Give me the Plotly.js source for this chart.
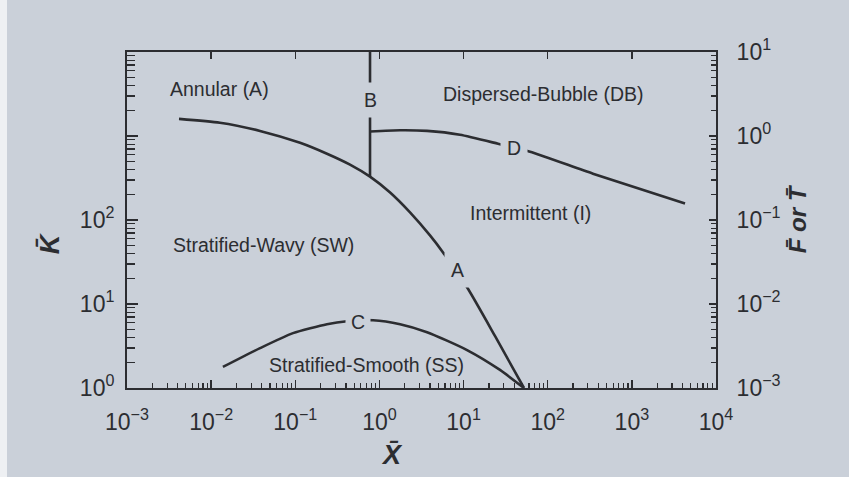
<!DOCTYPE html>
<html>
<head>
<meta charset="utf-8">
<script src="https://cdn.plot.ly/plotly-3.0.1.min.js"></script>
<style>
  html, body { margin: 0; padding: 0; background: #cad0d9; }
  #edge { position: absolute; left: 0; top: 0; width: 7px; height: 477px; background: #eef0f3; }
  #chart { position: absolute; left: 0; top: 0; width: 849px; height: 477px; }
</style>
</head>
<body>
<div id="edge"></div>
<div id="chart"></div>
<script>
// Taitel–Dukler flow-regime map for horizontal two-phase flow.
// Curves A, B and D are read against F or T (right axis), curve C against K (left axis).

const curveA_X = [0.00415, 0.0127, 0.0381, 0.114, 0.238, 0.447, 0.773, 1.34, 2.31, 3.99, 5.70, 11.0, 23.7, 52.2];
const curveA_F = [1.60, 1.44, 1.15, 0.83, 0.615, 0.456, 0.328, 0.212, 0.123, 0.0655, 0.0411, 0.0158, 0.00414, 0.001];

const curveB_X = [0.773, 0.773];
const curveB_F = [10, 0.328];

const curveC_X = [0.0138, 0.0381, 0.094, 0.238, 0.412, 0.840, 1.76, 3.68, 11.0, 27.1, 52.2];
const curveC_K = [1.78, 2.98, 4.50, 5.75, 6.24, 6.41, 5.75, 4.62, 2.83, 1.64, 1.0];

const curveD_X = [0.773, 1.76, 3.68, 9.07, 25.7, 61.6, 345, 4285];
const curveD_T = [1.13, 1.17, 1.15, 1.035, 0.809, 0.650, 0.356, 0.157];

// Tick values and labels
const xTickVals = [1e-3, 1e-2, 1e-1, 1e0, 1e1, 1e2, 1e3, 1e4];
const xTickText = ['10<sup>−3</sup>', '10<sup>−2</sup>', '10<sup>−1</sup>', '10<sup>0</sup>',
                   '10<sup>1</sup>', '10<sup>2</sup>', '10<sup>3</sup>', '10<sup>4</sup>'];
const kTickVals = [1, 10, 100, 1000, 10000];
const kTickText = ['10<sup>0</sup>', '10<sup>1</sup>', '10<sup>2</sup>', ' ', ' '];
const fTickVals = [1e-3, 1e-2, 1e-1, 1e0, 1e1];
const fTickText = ['10<sup>−3</sup>', '10<sup>−2</sup>', '10<sup>−1</sup>', '10<sup>0</sup>', '10<sup>1</sup>'];

// Region names (log10 X, log10 K)
const regionText = ['Annular (A)', 'Dispersed-Bubble (DB)', 'Intermittent (I)',
                    'Stratified-Wavy (SW)', 'Stratified-Smooth (SS)'];
const regionLogX = [-1.895, 1.944, 1.790, -1.372, -0.154];
const regionLogK = [3.561, 3.501, 2.089, 1.697, 0.273];

// Curve letters
const curveLetters = ['A', 'B', 'D'];
const letterLogX = [0.922, -0.112, 1.600];
const letterLogF = [-1.599, 0.430, -0.139];
const letterC = { text: 'C', logX: -0.255, logK: 0.783 };

const ink = '#2c2d31';
const paper = '#cad0d9';
const family = 'Liberation Sans, Arial, Helvetica, sans-serif';

function minorVals(lo, hi) {
  const v = [];
  for (let e = lo; e < hi; e++) {
    for (let d = 2; d <= 9; d++) v.push(d * Math.pow(10, e));
  }
  return v;
}

const lineStyle = { color: ink, width: 2.6, shape: 'spline', smoothing: 0.6 };

const traces = [
  { x: curveA_X, y: curveA_F, xaxis: 'x', yaxis: 'y2', mode: 'lines', line: lineStyle, hoverinfo: 'skip' },
  { x: curveB_X, y: curveB_F, xaxis: 'x', yaxis: 'y2', mode: 'lines', line: { color: ink, width: 2.6 }, hoverinfo: 'skip' },
  { x: curveD_X, y: curveD_T, xaxis: 'x', yaxis: 'y2', mode: 'lines', line: lineStyle, hoverinfo: 'skip' },
  { x: curveC_X, y: curveC_K, xaxis: 'x', yaxis: 'y', mode: 'lines', line: lineStyle, hoverinfo: 'skip' },
  // keeps the top axis drawn
  { x: [1], y: [1], xaxis: 'x2', yaxis: 'y', mode: 'markers', marker: { opacity: 0 }, hoverinfo: 'skip' }
];

const annotations = [];
regionText.forEach((t, i) => annotations.push({
  text: t, x: regionLogX[i], y: regionLogK[i], xref: 'x', yref: 'y',
  showarrow: false, font: { size: 19.5, color: ink, family: family }
}));
curveLetters.forEach((t, i) => annotations.push({
  text: t, x: letterLogX[i], y: letterLogF[i], xref: 'x', yref: 'y2',
  showarrow: false, bgcolor: paper, borderpad: 6, font: { size: 19.5, color: ink, family: family }
}));
annotations.push({
  text: letterC.text, x: letterC.logX, y: letterC.logK, xref: 'x', yref: 'y',
  showarrow: false, bgcolor: paper, borderpad: 5, font: { size: 19.5, color: ink, family: family }
});
// Axis names
annotations.push({
  text: '<b><i>X\u0304</i></b>', xref: 'paper', yref: 'paper', x: 0.45, y: -0.2,
  xanchor: 'center', yanchor: 'middle',
  showarrow: false, font: { size: 27, color: ink, family: family }
});
annotations.push({
  text: '<b><i>K\u0304</i></b>', xref: 'paper', yref: 'paper', x: -0.131, y: 0.43,
  xanchor: 'center', yanchor: 'middle',
  textangle: -90, showarrow: false, font: { size: 27, color: ink, family: family }
});

const baseAxis = {
  type: 'log', showline: true, linecolor: ink, linewidth: 2, mirror: false,
  ticks: 'inside', tickcolor: ink, tickwidth: 1.5, showgrid: false, zeroline: false,
  tickmode: 'array', tickfont: { size: 23, color: ink, family: family }
};

const layout = {
  width: 849, height: 477,
  margin: { l: 127, r: 133, t: 52, b: 89 },
  paper_bgcolor: 'rgba(0,0,0,0)', plot_bgcolor: 'rgba(0,0,0,0)',
  showlegend: false,
  font: { family: family, color: ink },
  xaxis: Object.assign({}, baseAxis, {
    range: [-3, 4], tickvals: xTickVals, ticktext: xTickText, ticklen: 8,
    ticklabelstandoff: 12,
    minor: { tickmode: 'array', tickvals: minorVals(-3, 4), ticks: 'inside', ticklen: 5, tickcolor: ink, tickwidth: 1.2, showgrid: false }
  }),
  xaxis2: Object.assign({}, baseAxis, {
    range: [-3, 4], overlaying: 'x', side: 'top', anchor: 'y',
    tickvals: xTickVals, showticklabels: false, ticklen: 7
  }),
  yaxis: Object.assign({}, baseAxis, {
    range: [0, 4], tickvals: kTickVals, ticktext: kTickText, ticklen: 11,
    ticklabelstandoff: 6,
    minor: { tickmode: 'array', tickvals: minorVals(0, 4), ticks: 'inside', ticklen: 8, tickcolor: ink, tickwidth: 1.2, showgrid: false }
  }),
  yaxis2: Object.assign({}, baseAxis, {
    range: [-3, 1], overlaying: 'y', side: 'right', anchor: 'x',
    tickvals: fTickVals, ticktext: fTickText, ticklen: 7, ticklabelstandoff: 14,
    minor: { tickmode: 'array', tickvals: minorVals(-3, 1), ticks: 'inside', ticklen: 5, tickcolor: ink, tickwidth: 1.2, showgrid: false },
    title: { text: '<b><i>F\u0304 or T\u0304</i></b>', font: { size: 24, color: ink, family: family }, standoff: 10 }
  }),
  annotations: annotations
};

Plotly.newPlot('chart', traces, layout, { staticPlot: true, displayModeBar: false });
</script>
</body>
</html>
